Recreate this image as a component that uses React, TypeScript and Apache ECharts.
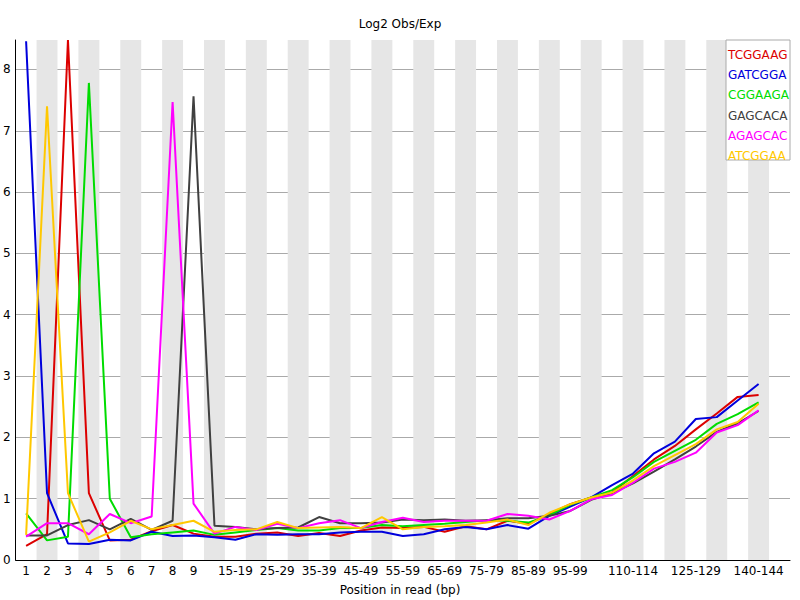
import React, { useEffect, useRef } from "react";
import * as echarts from "echarts";

const categories = [
  "1", "2", "3", "4", "5", "6", "7", "8", "9",
  "10-14", "15-19", "20-24", "25-29", "30-34", "35-39", "40-44", "45-49",
  "50-54", "55-59", "60-64", "65-69", "70-74", "75-79", "80-84", "85-89",
  "90-94", "95-99", "100-104", "105-109", "110-114", "115-119", "120-124",
  "125-129", "130-134", "135-139", "140-144", "",
];

const shownLabels = [0, 1, 2, 3, 4, 5, 6, 7, 8, 10, 12, 14, 16, 18, 20, 22, 24, 26, 29, 32, 35];

const yTickMax = 8;

const kmerNames = ["TCGGAAG", "GATCGGA", "CGGAAGA", "GAGCACA", "AGAGCAC", "ATCGGAA"];
const kmerColors = ["#dc0000", "#0000dc", "#00dc00", "#404040", "#ff00ff", "#ffc800"];

const tcggaag = [0.23, 0.42, 8.48, 1.09, 0.32, 0.33, 0.47, 0.57, 0.43, 0.38, 0.38, 0.43, 0.45, 0.39, 0.44, 0.39, 0.48, 0.53, 0.52, 0.54, 0.46, 0.55, 0.5, 0.64, 0.59, 0.75, 0.91, 1.02, 1.1, 1.37, 1.64, 1.86, 2.13, 2.39, 2.66, 2.69];
const gatcgga = [8.46, 1.09, 0.27, 0.26, 0.33, 0.32, 0.46, 0.39, 0.4, 0.37, 0.33, 0.42, 0.41, 0.42, 0.42, 0.45, 0.46, 0.46, 0.39, 0.42, 0.5, 0.54, 0.5, 0.57, 0.51, 0.72, 0.87, 1.02, 1.22, 1.41, 1.74, 1.93, 2.3, 2.33, 2.6, 2.87];
const cggaaga = [0.76, 0.32, 0.38, 7.78, 1.0, 0.37, 0.42, 0.45, 0.48, 0.41, 0.45, 0.49, 0.52, 0.48, 0.48, 0.52, 0.52, 0.57, 0.55, 0.57, 0.59, 0.62, 0.65, 0.64, 0.61, 0.73, 0.9, 1.02, 1.14, 1.35, 1.6, 1.78, 1.96, 2.22, 2.38, 2.57];
const gagcaca = [0.4, 0.4, 0.57, 0.65, 0.5, 0.67, 0.49, 0.64, 7.56, 0.56, 0.54, 0.5, 0.52, 0.53, 0.7, 0.6, 0.6, 0.61, 0.66, 0.65, 0.66, 0.64, 0.65, 0.68, 0.68, 0.72, 0.8, 0.98, 1.09, 1.25, 1.44, 1.64, 1.85, 2.09, 2.23, 2.43];
const agagcac = [0.38, 0.6, 0.6, 0.42, 0.75, 0.6, 0.71, 7.47, 0.92, 0.43, 0.54, 0.49, 0.59, 0.52, 0.6, 0.65, 0.52, 0.62, 0.69, 0.62, 0.64, 0.64, 0.64, 0.75, 0.72, 0.66, 0.8, 0.99, 1.06, 1.26, 1.49, 1.6, 1.75, 2.08, 2.2, 2.44];
const atcggaa = [0.41, 7.4, 1.09, 0.3, 0.45, 0.64, 0.5, 0.57, 0.64, 0.46, 0.49, 0.5, 0.62, 0.52, 0.53, 0.54, 0.52, 0.7, 0.5, 0.54, 0.55, 0.57, 0.61, 0.66, 0.57, 0.77, 0.91, 1.02, 1.1, 1.3, 1.53, 1.71, 1.89, 2.13, 2.25, 2.55];

const seriesValues = [tcggaag, gatcgga, cggaaga, gagcaca, agagcac, atcggaa];

const FONT = "DejaVu Sans";

export default function App() {
  const ref = useRef<HTMLDivElement>(null);
  useEffect(() => {
    if (!ref.current) return;
    const chart = echarts.init(ref.current, undefined, { renderer: "svg" });
    const labelSet = new Set(shownLabels);
    chart.setOption({
      animation: false,
      backgroundColor: "#ffffff",
      textStyle: { fontFamily: FONT },
      title: [
        {
          text: "Log2 Obs/Exp",
          left: "center",
          top: 17,
          padding: 0,
          textStyle: { fontFamily: FONT, fontSize: 12, fontWeight: "normal", color: "#000", lineHeight: 14 },
        },
        {
          text: "Position in read (bp)",
          left: "center",
          top: 583,
          padding: 0,
          textStyle: { fontFamily: FONT, fontSize: 12, fontWeight: "normal", color: "#000", lineHeight: 14 },
        },
      ],
      grid: { left: 13, right: 10, top: 40, bottom: 40, containLabel: false },
      xAxis: {
        type: "category",
        data: categories,
        boundaryGap: true,
        axisLine: { show: true, lineStyle: { color: "#000", width: 1 } },
        axisTick: { show: false },
        axisLabel: {
          interval: (idx: number) => labelSet.has(idx),
          margin: 5,
          color: "#000",
          fontFamily: FONT,
          fontSize: 12,
          hideOverlap: false,
        },
        splitLine: { show: false },
        splitArea: {
          show: true,
          interval: 0,
          areaStyle: { color: ["rgba(255,255,255,0)", "#e6e6e6"] },
        },
      },
      yAxis: {
        type: "value",
        min: 0,
        max: "dataMax",
        interval: 1,
        axisLine: { show: true, lineStyle: { color: "#000", width: 1 } },
        axisTick: { show: false },
        axisLabel: {
          margin: 5,
          color: "#000",
          fontFamily: FONT,
          fontSize: 12,
          formatter: (v: number) => (Number.isInteger(v) && v <= yTickMax ? String(v) : ""),
        },
        splitLine: {
          show: true,
          showMinLine: false,
          showMaxLine: false,
          lineStyle: { color: "#aaaaaa", width: 1 },
        },
      },
      legend: {
        orient: "vertical",
        left: 723,
        top: 48,
        padding: 0,
        itemWidth: 0,
        itemHeight: 0,
        itemGap: 6.2,
        icon: "rect",
        selectedMode: false,
        z: 20,
        textStyle: { fontFamily: FONT, fontSize: 12, lineHeight: 14 },
        data: kmerNames.map((n, i) => ({ name: n, textStyle: { color: kmerColors[i] } })),
      },
      graphic: [
        {
          type: "rect",
          z: 10,
          shape: { x: 726, y: 40, width: 64, height: 120 },
          style: { fill: "#ffffff", stroke: "#aaaaaa", lineWidth: 1 },
        },
      ],
      series: kmerNames.map((n, i) => ({
        name: n,
        type: "line",
        data: seriesValues[i],
        symbol: "none",
        showSymbol: false,
        lineStyle: { color: kmerColors[i], width: 2 },
        itemStyle: { color: kmerColors[i] },
        z: 3 + i,
      })),
    });
    return () => chart.dispose();
  }, []);
  return (
    <div
      ref={ref}
      style={{ position: "fixed", left: 0, top: 0, width: 800, height: 600 }}
    />
  );
}
